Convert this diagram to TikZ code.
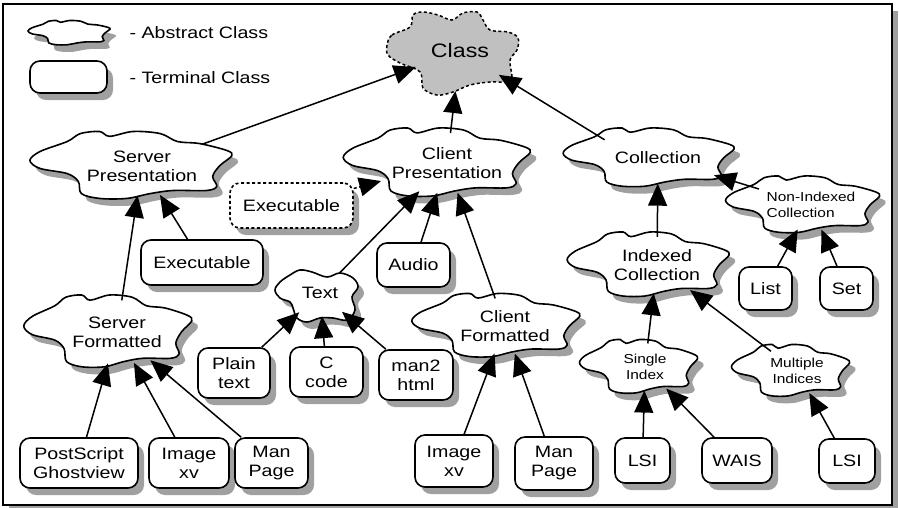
\documentclass[tikz,border=0pt]{standalone}
\usepackage{fontspec}
\setmainfont[FakeStretch=1.19]{Liberation Sans}
\usetikzlibrary{arrows.meta,shapes.geometric,shadows}

\definecolor{shadowgray}{RGB}{160,160,160}
\definecolor{classgray}{RGB}{192,192,192}

\newcommand\labelfont{\fontsize{16.5}{19}\selectfont}
\newcommand\smalllabelfont{\fontsize{13}{16}\selectfont}
\newcommand\classfont{\fontsize{19.5}{22}\selectfont}

\tikzset{
  % generic cloud outline, normalised to a unit box
  pics/blob/.style={code={
    \path[pic actions] plot[smooth cycle, tension=0.55] coordinates {
      (-1.0,-0.16) (-0.90,-0.42) (-0.63,-0.71) (-0.50,-0.94) (-0.31,-1.0)
      (-0.21,-0.86) (0.02,-1.0) (0.29,-0.94) (0.46,-0.71) (0.68,-0.65)
      (0.95,-0.45) (1.0,-0.30) (0.88,-0.01) (0.81,0.30) (0.85,0.59)
      (0.75,0.71) (0.42,0.71) (0.19,0.80) (-0.04,0.94) (-0.31,0.94)
      (-0.49,0.80) (-0.52,0.45) (-0.63,0.22) (-0.90,0.07)};}},
  % root cloud
  pics/rootblob/.style={code={
    \path[pic actions] plot[smooth cycle, tension=0.6] coordinates {
      (-71,-7) (-66,-17) (-48,-25) (-45,-37) (-35,-40) (-20,-37) (-6,-32)
      (5,-39) (19,-40) (25,-32) (32,-22) (50,-20) (60,-14) (59,-2) (52,8)
      (54,25) (50,30) (32,30) (12,33) (-5,40) (-21,43) (-35,36) (-38,20)
      (-58,11) (-70,3)};}},
  % small cloud of the text formats
  pics/textblob/.style={code={
    \path[pic actions] plot[smooth cycle, tension=0.6] coordinates {
      (-47,-3) (-42,-11) (-32,-18) (-22,-23) (-10,-21) (5,-16) (18,-20)
      (31,-15) (36,-6) (30,4) (33,17) (25,27) (11,25) (-2,25) (-15,29)
      (-25,25) (-29,15) (-32,9) (-42,5)};}},
  shadowed/.style={drop shadow={shadow xshift=6pt, shadow yshift=-7pt,
      fill=shadowgray, opacity=1}},
  cloudline/.style={draw, fill=white, line width=1.6pt},
  cloudshade/.style={fill=shadowgray},
  cloudlabel/.style={ellipse, inner sep=0pt, align=center, font=\labelfont},
  terminal/.style={draw, fill=white, line width=1.6pt, rounded corners=10pt,
      inner sep=0pt, align=center, font=\labelfont, shadowed},
  frame/.style={draw, fill=white, line width=1.8pt, shadowed},
  edge/.style={draw, line width=1.5pt, -{Triangle[length=22pt,width=19pt]}},
}

% abstract class: shadowed cloud with a named label node
% [node options]{name}{x}{y}{half width}{half height}{text}
\newcommand\abstractclass[7][]{%
  \pic[shift={({#3-0.11*#5+6},{#4+7})}, xscale=#5, yscale=#6, cloudshade] {blob};
  \pic[shift={({#3-0.11*#5},{#4})}, xscale=#5, yscale=#6, cloudline] {blob};
  \node[cloudlabel, minimum width={1.76*#5}, minimum height={1.7*#6}, #1] (#2) at (#3,#4) {#7};
}

\begin{document}
\begin{tikzpicture}[x=1pt, y=-1pt]
  \useasboundingbox (0,0) rectangle (899,507);
  \path[frame] (3,4) rectangle (892,505);

  % key
  \pic[shift={(75,40)}, xscale=41, yscale=12.5, cloudshade] {blob};
  \pic[shift={(69,33)}, xscale=41, yscale=12.5, cloudline] {blob};
  \node[anchor=west, font=\labelfont] (abstractkey) at (126,33) {- Abstract Class};
  \node[terminal, minimum width=77, minimum height=32] (terminalbox) at (68.5,77) {};
  \node[anchor=west, font=\labelfont] (terminalkey) at (126,78) {- Terminal Class};

  % root
  \pic[shift={(458,52)}, draw=black, fill=classgray, line width=1.5pt,
       dash pattern=on 3pt off 2.5pt] {rootblob};
  \node[ellipse, inner sep=0pt, font=\classfont, minimum width=96, minimum height=80]
       (class) at (460,51) {Class};

  % abstract classes
  \abstractclass{sp}{142}{166}{101}{34.5}{Server\\Presentation}
  \abstractclass{cp}{447}{163}{93.5}{35}{Client\\Presentation}
  \abstractclass{coll}{658}{158}{85.5}{30}{Collection}
  \abstractclass[font=\smalllabelfont, align=left]{nidx}{811}{205}{77}{29}{Non-Indexed\\Collection}
  \abstractclass{idx}{657}{265}{81}{33}{Indexed\\Collection}
  \abstractclass{sf}{117}{332}{84}{37}{Server\\Formatted}
  \abstractclass{cf}{505}{326}{84}{32.5}{Client\\Formatted}
  \abstractclass[font=\smalllabelfont]{single}{645}{367}{59}{27.5}{Single\\Index}
  \abstractclass[font=\smalllabelfont]{multi}{797}{371}{59}{26.5}{Multiple\\Indices}

  \pic[shift={(328,300)}, cloudshade] {textblob};
  \pic[shift={(322,293)}, cloudline] {textblob};
  \node[cloudlabel, minimum width=74, minimum height=46] (text) at (320,293) {Text};

  % terminal classes
  \node[terminal, dash pattern=on 3pt off 2.5pt, minimum width=123, minimum height=45]
       (exc) at (291.5,205.5) {Executable};
  \node[terminal, minimum width=122, minimum height=45] (exs) at (202,262.5) {Executable};
  \node[terminal, minimum width=73, minimum height=44] (audio) at (413.5,265) {Audio};
  \node[terminal, minimum width=53, minimum height=43] (list) at (765.5,288.5) {List};
  \node[terminal, minimum width=53, minimum height=43] (set) at (846.5,288.5) {Set};
  \node[terminal, minimum width=72, minimum height=50] (plain) at (234,373) {Plain\\text};
  \node[terminal, minimum width=73, minimum height=50] (ccode) at (326.5,372) {C\\code};
  \node[terminal, minimum width=74, minimum height=50] (man2) at (416,375) {man2\\html};
  \node[terminal, minimum width=118, minimum height=50] (pst) at (79,463) {PostScript\\Ghostview};
  \node[terminal, minimum width=80, minimum height=50] (imgs) at (189,463) {Image\\xv};
  \node[terminal, minimum width=73, minimum height=50] (mans) at (271.5,463) {Man\\Page};
  \node[terminal, minimum width=78, minimum height=52] (imgc) at (454,461) {Image\\xv};
  \node[terminal, minimum width=78, minimum height=53] (manc) at (554,463.5) {Man\\Page};
  \node[terminal, minimum width=55, minimum height=45] (lsia) at (642.5,460.5) {LSI};
  \node[terminal, minimum width=70, minimum height=45] (wais) at (737,460.5) {WAIS};
  \node[terminal, minimum width=56, minimum height=44] (lsib) at (847,461) {LSI};

  % inheritance
  \draw[edge] (sp) -- (class);
  \draw[edge] (cp) -- (class);
  \draw[edge] (coll.north west) -- (class);
  \draw[edge] (exs) -- (sp);
  \draw[edge] (sf) -- (sp);
  \draw[edge, dash pattern=on 3pt off 2.5pt] (exc) -- (cp);
  \draw[edge] (text) -- (cp);
  \draw[edge] (audio) -- (cp);
  \draw[edge] (cf) -- (cp);
  \draw[edge] (plain) -- (text);
  \draw[edge] (ccode) -- (text);
  \draw[edge] (man2) -- (text);
  \draw[edge] (pst) -- (sf);
  \draw[edge] (imgs) -- (sf);
  \draw[edge] (mans) -- (sf);
  \draw[edge] (imgc) -- (cf);
  \draw[edge] (manc) -- (cf);
  \draw[edge] (idx) -- (coll);
  \draw[edge] (nidx) -- (coll);
  \draw[edge] (list) -- (nidx);
  \draw[edge] (set) -- (nidx);
  \draw[edge] (single) -- (idx);
  \draw[edge] (multi) -- (idx);
  \draw[edge] (lsia) -- (single);
  \draw[edge] (wais) -- (single);
  \draw[edge] (lsib) -- (multi);
\end{tikzpicture}
\end{document}
